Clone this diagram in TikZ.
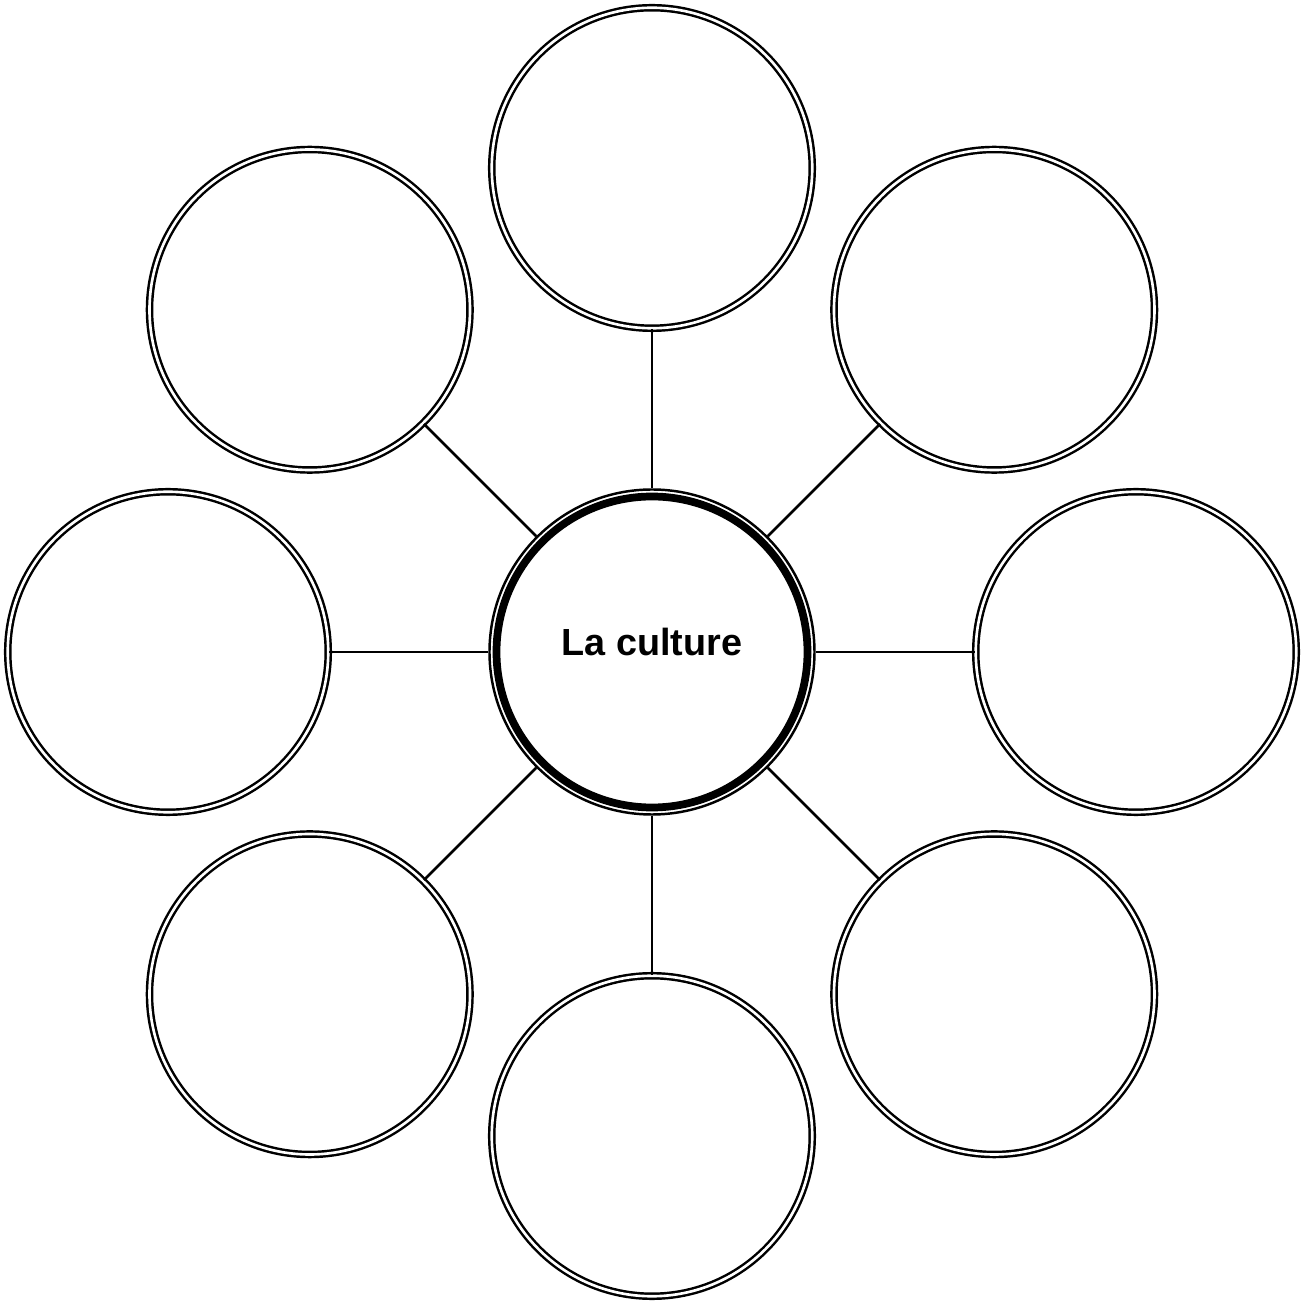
\documentclass[tikz,border=0pt]{standalone}
\usepackage{fontspec}
\setmainfont{Liberation Sans}
\usepackage{tikz}
\usetikzlibrary{positioning, calc}
\tikzset{
  bubble/.style={circle, draw, double, line width=1.4pt, double distance=1.5pt,
                 minimum size=6.41cm, inner sep=0pt},
  hubring/.style={circle, draw, line width=1.4pt, minimum size=6.5cm, inner sep=0pt},
  spoke/.style={line width=1.5pt}
}

\begin{document}
\begin{tikzpicture}
    \useasboundingbox (-13.04,-13.0) rectangle (13.14,13.04);
    \node[hubring] (hub) at (0,0) {};
    \draw[line width=4.4pt] (hub.center) circle (3.11);
    \node[font=\fontsize{21.5}{25}\selectfont\bfseries] (hub-text) at ([yshift=0.2cm]hub.center) {La culture};
    % eight empty bubbles round the hub
    \foreach \i in {0,...,7} {
      \node[bubble] (idea-\i) at (90-\i*45:9.68) {};
      \draw[spoke] (hub) -- (idea-\i);
    }
  \end{tikzpicture}
\end{document}
